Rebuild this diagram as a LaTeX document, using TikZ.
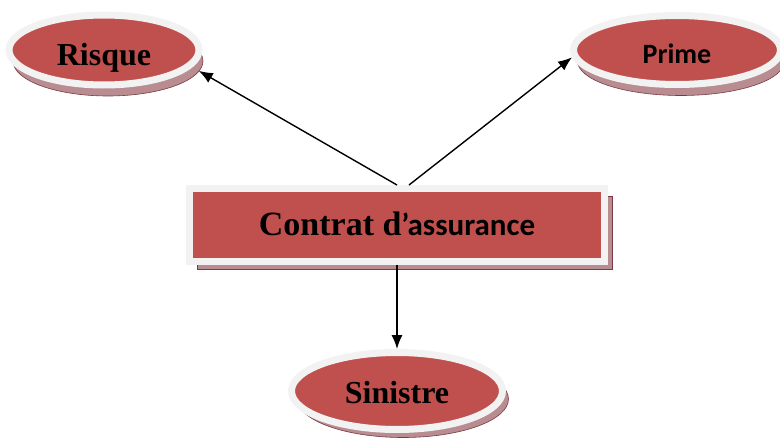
\documentclass[tikz,border=0pt]{standalone}
\usepackage{fontspec}
\setmainfont{Liberation Serif}
\newfontfamily\calibfont{Carlito}
\usetikzlibrary{shapes.geometric,shadows,arrows.meta}
\definecolor{redfill}{RGB}{192,80,77}
\definecolor{ringcol}{RGB}{242,242,242}
\definecolor{shadowcol}{RGB}{184,140,144}
\definecolor{shadowedge}{RGB}{120,60,66}
\tikzset{
  base/.style={fill=redfill, draw=ringcol, line width=7pt, inner sep=0pt, text=black, text depth=0pt},
  ovalnode/.style={base, ellipse},
  boxnode/.style={base, rectangle},
  shad/.style 2 args={drop shadow={shadow xshift=#1, shadow yshift=#2, fill=shadowcol, draw=shadowedge, line width=0.6pt, opacity=1}},
  serifbig/.style={font=\bfseries\fontsize{32}{32}\selectfont},
  sansbig/.style={font=\calibfont\bfseries\fontsize{28}{28}\selectfont},
  arr/.style={-{Latex[length=14pt,width=11pt]}, line width=1.4pt, black}
}
\begin{document}
\begin{tikzpicture}[x=1pt,y=-1pt]
\useasboundingbox (0,0) rectangle (780,439);
\node[ovalnode, shad={4pt}{-11pt}, minimum width=190pt, minimum height=70pt, serifbig, text height=30pt] (risque) at (104,50) {Risque};
\node[ovalnode, shad={4pt}{-11pt}, minimum width=207pt, minimum height=69pt, sansbig, text height=26pt] (prime) at (677,50) {Prime};
\node[boxnode, shad={8pt}{-8pt}, minimum width=415pt, minimum height=73pt, text height=20pt] (contrat) at (397,225)
  {\fontsize{34}{34}\selectfont\bfseries Contrat d{\calibfont\fontsize{31}{31}\selectfont ’assurance}};
\node[ovalnode, shad={6pt}{-8pt}, minimum width=211pt, minimum height=77pt, serifbig, text height=24pt] (sinistre) at (397,391) {Sinistre};
\draw[arr] (contrat.north) -- ([xshift=5pt,yshift=-5pt]risque.-10);
\draw[arr] ([xshift=12pt]contrat.north) -- (prime.184);
\draw[arr] (contrat.south) -- (sinistre.north);
\end{tikzpicture}
\end{document}
